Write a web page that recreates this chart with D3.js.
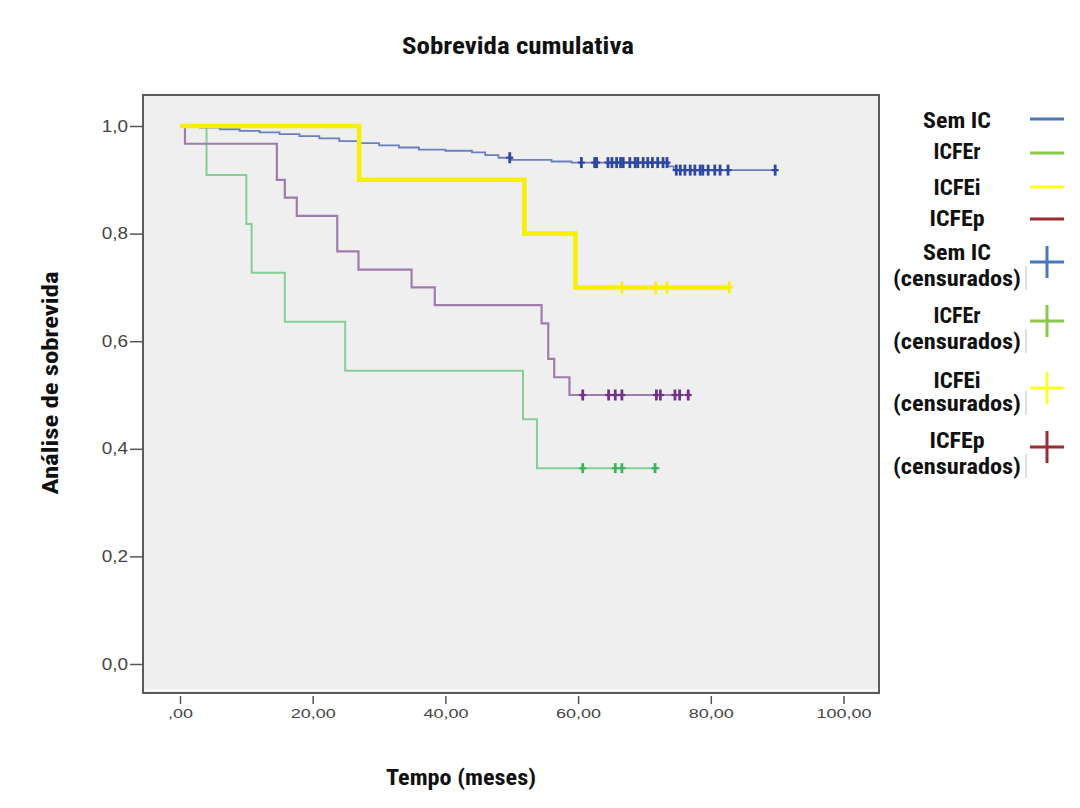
<!DOCTYPE html>
<html>
<head>
<meta charset="utf-8">
<script src="https://cdn.jsdelivr.net/npm/d3@7/dist/d3.min.js"></script>
<style>
  html, body { margin: 0; padding: 0; background: #ffffff; }
  svg { display: block; }
</style>
</head>
<body>
<svg id="chart" width="1080" height="808"></svg>
<script>
// ---------------- data ----------------
const title = "Sobrevida cumulativa";
const xLabel = "Tempo (meses)";
const yLabel = "Análise de sobrevida";
const xTicks = [0, 20, 40, 60, 80, 100];
const yTicks = [0, 0.2, 0.4, 0.6, 0.8, 1.0];

// Sem IC
const semIC_t = [0, 3, 6, 9, 12, 15, 18, 21, 24, 27, 30, 33, 36, 40, 44, 46, 48, 50, 56, 59, 73.6, 74.4, 89.7];
const semIC_s = [1, 0.997, 0.994, 0.991, 0.988, 0.985, 0.981, 0.977, 0.972, 0.968, 0.964, 0.960, 0.956, 0.954, 0.951, 0.946, 0.941, 0.937, 0.934, 0.932, 0.925, 0.918, 0.918];
const semIC_c = [49.7, 60.5, 62.5, 62.8, 64.5, 65.1, 65.8, 66.4, 66.8, 67.8, 68.6, 69.0, 69.8, 70.5, 71.2, 72.0, 72.8, 73.4, 74.8, 75.4, 76.1, 76.9, 77.6, 78.4, 78.8, 79.6, 80.6, 81.4, 82.6, 89.7];

// ICFEr
const icfer_t = [0, 4, 10, 10.8, 15.8, 24.9, 51.7, 53.8, 72.3];
const icfer_s = [1, 0.909, 0.818, 0.727, 0.636, 0.545, 0.455, 0.364, 0.364];
const icfer_c = [60.7, 65.6, 66.6, 71.6];

// ICFEi
const icfei_t = [0, 27, 51.9, 59.6, 82.8];
const icfei_s = [1, 0.9, 0.8, 0.7, 0.7];
const icfei_c = [66.6, 71.7, 73.4, 82.8];

// ICFEp
const icfep_t = [0, 0.75, 14.6, 15.8, 17.6, 23.7, 26.9, 34.9, 38.4, 54.5, 55.5, 56.4, 58.7, 76.6];
const icfep_s = [1, 0.967, 0.9, 0.867, 0.833, 0.767, 0.733, 0.7, 0.667, 0.633, 0.567, 0.533, 0.5, 0.5];
const icfep_c = [60.7, 64.6, 65.6, 66.6, 71.8, 72.4, 74.6, 75.3, 76.6];

const legendLabels = ["Sem IC", "ICFEr", "ICFEi", "ICFEp"];
const censLabel = "(censurados)";

// ---------------- drawing ----------------
const svg = d3.select("#chart");
const font = "'Liberation Sans Narrow', 'Roboto Condensed', 'DejaVu Sans Condensed', 'Arial Narrow', sans-serif";
const tickFont = "'Liberation Sans', Arial, sans-serif";

const frame = { left: 143, top: 95, right: 879, bottom: 693 };
const x = d3.scaleLinear().domain([0, 100]).range([180, 843.5]);
const y = d3.scaleLinear().domain([0, 1]).range([664, 126]);

// plot background + frame
svg.append("rect")
  .attr("x", frame.left).attr("y", frame.top)
  .attr("width", frame.right - frame.left).attr("height", frame.bottom - frame.top)
  .attr("fill", "#efefef").attr("stroke", "#5a5a5a").attr("stroke-width", 2);
svg.append("line")
  .attr("x1", frame.left + 2).attr("x2", frame.right - 2)
  .attr("y1", frame.bottom - 3).attr("y2", frame.bottom - 3)
  .attr("stroke", "#ffffff").attr("stroke-width", 1.5);

// axes
const yAxis = d3.axisLeft(y).tickValues(yTicks).tickSize(12).tickPadding(2)
  .tickFormat(d => d.toFixed(1).replace(".", ","));
const gy = svg.append("g").attr("transform", `translate(${frame.left - 1},0)`).call(yAxis);
gy.select(".domain").remove();
gy.selectAll(".tick line").attr("stroke", "#555").attr("stroke-width", 1.5);
gy.selectAll(".tick text").attr("font-family", tickFont)
  .attr("font-size", 16).attr("fill", "#444")
  .each(function () {
    const w = this.getComputedTextLength();
    d3.select(this).attr("textLength", w * 1.18).attr("lengthAdjust", "spacingAndGlyphs");
  });

const xAxis = d3.axisBottom(x).tickValues(xTicks).tickSize(8).tickPadding(5)
  .tickFormat(d => d === 0 ? ",00" : d.toFixed(2).replace(".", ","));
const gx = svg.append("g").attr("transform", `translate(0,${frame.bottom + 3})`).call(xAxis);
gx.select(".domain").remove();
gx.selectAll(".tick line").attr("stroke", "#555").attr("stroke-width", 1.5);
gx.selectAll(".tick text").attr("font-family", tickFont)
  .attr("font-size", 12).attr("fill", "#444")
  .attr("transform", "scale(1.5,1)");

// curves
const series = [
  { t: icfer_t, s: icfer_s, c: icfer_c, line: "#84d094", cens: "#3fb25c", w: 2, ch: 5 },
  { t: icfep_t, s: icfep_s, c: icfep_c, line: "#a07cad", cens: "#74318a", w: 2.2, ch: 5.5 },
  { t: semIC_t, s: semIC_s, c: semIC_c, line: "#6a7fbd", cens: "#2e48a2", w: 1.8, ch: 5.5 },
  { t: icfei_t, s: icfei_s, c: icfei_c, line: "#f7f000", cens: "#f7f000", w: 4.5, ch: 6 }
];

const stepLine = d3.line().x(d => x(d[0])).y(d => y(d[1])).curve(d3.curveStepAfter);

series.forEach(sr => {
  const pts = sr.t.map((t, i) => [t, sr.s[i]]);
  svg.append("path").datum(pts)
    .attr("d", stepLine).attr("fill", "none")
    .attr("stroke", sr.line).attr("stroke-width", sr.w);
  // censor marks
  const sAt = t => { let v = sr.s[0]; sr.t.forEach((tt, i) => { if (tt <= t) v = sr.s[i]; }); return v; };
  const g = svg.append("g");
  sr.c.forEach(ct => {
    const cx = x(ct), cy = y(sAt(ct));
    g.append("line").attr("x1", cx).attr("x2", cx).attr("y1", cy - sr.ch).attr("y2", cy + sr.ch)
      .attr("stroke", sr.cens).attr("stroke-width", 2.8);
    g.append("line").attr("x1", cx - 3.5).attr("x2", cx + 3.5).attr("y1", cy).attr("y2", cy)
      .attr("stroke", sr.cens).attr("stroke-width", 2.2);
  });
});

// titles
svg.append("text").attr("x", 518).attr("y", 54).attr("text-anchor", "middle")
  .attr("font-family", font).attr("font-weight", "bold").attr("font-size", 23)
  .attr("textLength", 232).attr("lengthAdjust", "spacingAndGlyphs")
  .attr("fill", "#111").text(title);
svg.append("text").attr("x", 461).attr("y", 785).attr("text-anchor", "middle")
  .attr("font-family", font).attr("font-weight", "bold").attr("font-size", 22)
  .attr("textLength", 150).attr("lengthAdjust", "spacingAndGlyphs")
  .attr("fill", "#111").text(xLabel);
svg.append("text").attr("transform", "translate(58,383) rotate(-90)").attr("text-anchor", "middle")
  .attr("font-family", font).attr("font-weight", "bold").attr("font-size", 22)
  .attr("textLength", 223).attr("lengthAdjust", "spacingAndGlyphs")
  .attr("fill", "#111").text(yLabel);

// legend
const legColors = ["#4a76bd", "#8cc84b", "#ffff1a", "#9c2c30"];
const legWidths = [68, 47, 47, 55];
const lineRows = [128, 159, 195, 226];
const lineSymY = [119, 153, 187, 219];
const censRows = [[260, 286], [323, 349], [388, 411], [448, 474]];
const plusY = [262, 321, 388, 447];
const leg = svg.append("g").attr("font-family", font).attr("font-weight", "bold")
  .attr("font-size", 22).attr("fill", "#111");
const lcx = 957;
legendLabels.forEach((lab, i) => {
  leg.append("text").attr("x", lcx).attr("y", lineRows[i]).attr("text-anchor", "middle")
    .attr("textLength", legWidths[i]).attr("lengthAdjust", "spacingAndGlyphs").text(lab);
  leg.append("line").attr("x1", 1030).attr("x2", 1064).attr("y1", lineSymY[i]).attr("y2", lineSymY[i])
    .attr("stroke", legColors[i]).attr("stroke-width", 3);
});
legendLabels.forEach((lab, i) => {
  leg.append("text").attr("x", lcx).attr("y", censRows[i][0]).attr("text-anchor", "middle")
    .attr("textLength", legWidths[i]).attr("lengthAdjust", "spacingAndGlyphs").text(lab);
  leg.append("text").attr("x", lcx).attr("y", censRows[i][1]).attr("text-anchor", "middle")
    .attr("textLength", 128).attr("lengthAdjust", "spacingAndGlyphs").text(censLabel);
  leg.append("line").attr("x1", 1026).attr("x2", 1026)
    .attr("y1", censRows[i][1] - 20).attr("y2", censRows[i][1] + 4)
    .attr("stroke", "#c8c8c8").attr("stroke-width", 1.2);
  leg.append("line").attr("x1", 1030).attr("x2", 1064).attr("y1", plusY[i]).attr("y2", plusY[i])
    .attr("stroke", legColors[i]).attr("stroke-width", 3);
  leg.append("line").attr("x1", 1047).attr("x2", 1047).attr("y1", plusY[i] - 16).attr("y2", plusY[i] + 16)
    .attr("stroke", legColors[i]).attr("stroke-width", 3);
});
</script>
</body>
</html>
